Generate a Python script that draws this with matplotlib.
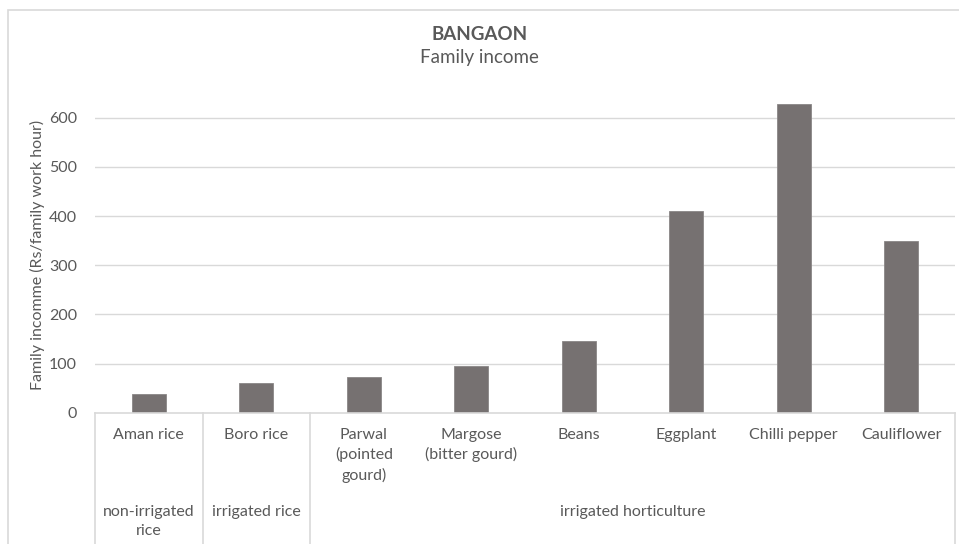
import matplotlib.pyplot as plt
from matplotlib.patches import Rectangle

# ------------------ DATA ------------------
crops = ['Aman rice', 'Boro rice', 'Parwal\n(pointed\ngourd)', 'Margose\n(bitter gourd)',
         'Beans', 'Eggplant', 'Chilli pepper', 'Cauliflower']
income = [39, 60, 72, 95, 146, 410, 628, 350]
groups = ['non-irrigated\nrice', 'irrigated rice', 'irrigated horticulture']
group_spans = [(0, 0), (1, 1), (2, 7)]   # first and last crop index in each group
y_ticks = [0, 100, 200, 300, 400, 500, 600]
# ------------------------------------------

TEXT = '#595959'
GRID = '#d9d9d9'
BAR = '#767171'

plt.rcParams['font.family'] = ['Lato', 'DejaVu Sans']

fig = plt.figure(figsize=(9.59, 5.44), dpi=100)
W, H = 959, 544

# outer chart frame (cropped at the right and bottom like the reference)
fig.patches.append(Rectangle((8 / W, -0.1), 1.2, 1 - 10 / H + 0.1, transform=fig.transFigure,
                             fill=False, edgecolor=GRID, lw=1.2))

ax = fig.add_axes([95 / W, 1 - 412.7 / H, 860 / W, 314.7 / H])
x = range(len(crops))
ax.bar(x, income, width=0.314, color=BAR, edgecolor='#8a8686', linewidth=0.6, zorder=3)

ax.set_xlim(-0.5, len(crops) - 0.5)
ax.set_ylim(0, 640)
ax.set_yticks(y_ticks)
ax.set_yticklabels([str(v) for v in y_ticks], color=TEXT, fontsize=11.5)
ax.tick_params(axis='y', length=0, pad=13)
ax.set_xticks([])
for s in ax.spines.values():
    s.set_visible(False)
for v in y_ticks[1:]:
    ax.axhline(v, color=GRID, lw=1, zorder=1)

ax.set_ylabel('Family incomme (Rs/family work hour)', color=TEXT, fontsize=11.5)
ax.yaxis.set_label_coords((45 - 95) / 860, 0.5)

# multi-level category axis
tr = ax.get_xaxis_transform()
ax.plot([-0.5, len(crops) - 0.5], [0, 0], color=GRID, lw=1.2, transform=tr, clip_on=False, zorder=4)
for sep in [-0.5, 0.5, 1.5, len(crops) - 0.5]:
    ax.plot([sep, sep], [0, -0.6], color=GRID, lw=1.2, transform=tr, clip_on=False)

px = 1 / 314.7  # one pixel in axes units
for i, name in enumerate(crops):
    ax.text(i, -15 * px, name, transform=tr, ha='center', va='top', color=TEXT,
            fontsize=11.5, linespacing=1.45)
for name, (a, b) in zip(groups, group_spans):
    ax.text((a + b) / 2, -92 * px, name, transform=tr, ha='center', va='top', color=TEXT,
            fontsize=11.5, linespacing=1.45)

fig.text(0.5, 1 - 35 / H, 'BANGAON', ha='center', va='center', color=TEXT,
         fontsize=13.5, fontweight='bold')
fig.text(0.5, 1 - 57 / H, 'Family income', ha='center', va='center', color=TEXT, fontsize=13.5)

fig.savefig('out.png', dpi=100)
